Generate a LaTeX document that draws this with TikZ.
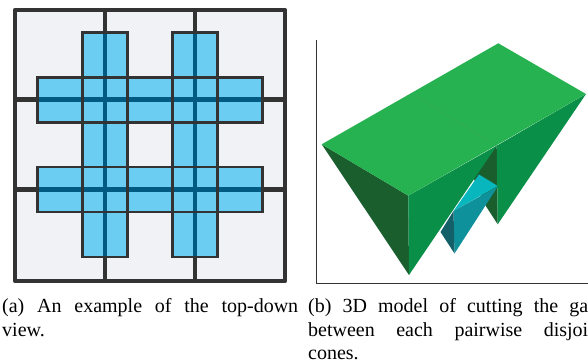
\documentclass[tikz,border=0pt]{standalone}
\usepackage{fontspec}
\setmainfont{Liberation Serif}
\usepackage{xcolor}
\definecolor{gridgray}{RGB}{51,51,51}
\definecolor{paper}{RGB}{241,242,245}
\definecolor{gapblue}{RGB}{108,205,242}
\definecolor{coreblue}{RGB}{0,90,130}
\definecolor{topgreen}{RGB}{38,178,80}
\definecolor{midgreen}{RGB}{10,143,72}
\definecolor{darkgreen}{RGB}{27,94,46}
\definecolor{topcyan}{RGB}{8,183,190}
\definecolor{midcyan}{RGB}{14,145,155}
\definecolor{darkcyan}{RGB}{19,96,105}
\tikzset{
  gridline/.style={draw=gridgray, line width=4.6pt, line join=round},
  coreline/.style={draw=coreblue, line width=4.6pt},
  gapbox/.style={draw=gridgray, line width=2.1pt},
  capline/.style={anchor=base west, inner sep=0pt, font=\fontsize{20}{24}\selectfont}
}
\begin{document}
\begin{tikzpicture}[x=1pt, y=-1pt]
  \useasboundingbox (0,0) rectangle (588,362);
  % (a) top-down view
  \fill[paper] (15,10) rectangle (285,281);
  \draw[gridline] (15,10) rectangle (285,281);
  \foreach \x in {105,195}
    \draw[gridline] (\x,10) -- (\x,281);
  \foreach \y in {99.5,189.5}
    \draw[gridline] (15,\y) -- (285,\y);
  \foreach \x in {82.5,172.5}
    \fill[gapblue] (\x,32.5) rectangle (\x+45,257);
  \foreach \y in {77.5,167}
    \fill[gapblue] (37.5,\y) rectangle (262.5,\y+45);
  \foreach \x in {105,195}
    \draw[coreline] (\x,32.5) -- (\x,257);
  \foreach \y in {99.5,189.5}
    \draw[coreline] (37.5,\y) -- (262.5,\y);
  \foreach \x in {82.5,172.5}
    \draw[gapbox] (\x,32.5) rectangle (\x+45,257);
  \foreach \y in {77.5,167}
    \draw[gapbox] (37.5,\y) rectangle (262.5,\y+45);
  % (b) 3D model
  \draw[gridgray, line width=0.9pt] (316.7,40) -- (316.7,283.3) -- (588,283.3);
  \fill[darkgreen] (496.7,145.7) -- (497.7,224.3) -- (485.5,205.5) -- (470,170) -- cycle;
  \fill[topcyan] (479,174.5) -- (497.7,186) -- (453.5,211) -- cycle;
  \fill[midcyan] (453.5,211) -- (497.7,186.5) -- (454.5,253.5) -- cycle;
  \fill[darkcyan] (453.5,211) -- (440.5,232) -- (454.5,253.5) -- cycle;
  \fill[midgreen] (496.7,145.7) -- (586,94) -- (497.7,224.3) -- cycle;
  \fill[darkgreen] (321.7,144.3) -- (408.3,195.7) -- (409,275) -- cycle;
  \fill[midgreen] (408.3,195.7) -- (496.7,145.7) -- (409,275) -- cycle;
  \fill[topgreen] (321.7,144.3) -- (498.3,43.3) -- (586,94) -- (408.3,195.7) -- cycle;
  \draw[topgreen!80!gray, line width=0.4pt] (412.3,94) -- (496.7,145.7);
  % captions
  \node[capline] (capa1) at (2,312) {\makebox[296pt][s]{(a) An example of the top-down}};
  \node[capline] (capa2) at (2,336) {view.};
  \node[capline] (capb1) at (308,312) {\makebox[280pt][s]{(b) 3D model of cutting the ga}};
  \node[capline] (capb2) at (308,336) {\makebox[280pt][s]{between each pairwise disjoi}};
  \node[capline] (capb3) at (308,359) {cones.};
\end{tikzpicture}
\end{document}
